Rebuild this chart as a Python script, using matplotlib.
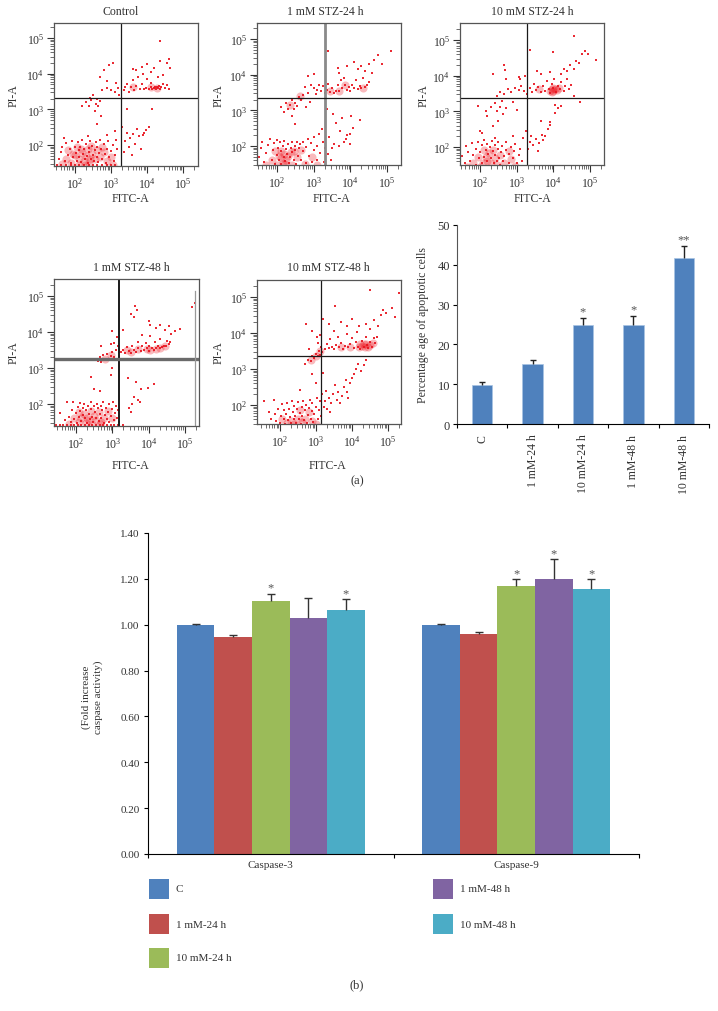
import matplotlib
matplotlib.use("Agg")
import matplotlib.pyplot as plt
import numpy as np

plt.rcParams['font.family'] = ['Liberation Serif', 'DejaVu Serif']

W, H = 718, 1012
colors = ['#4f81bd', '#c0504d', '#9bbb59', '#8064a2', '#4bacc6']
text_col = '#333333'

# flow cytometry events as (log10 FITC-A, log10 PI-A)
ctrl_pts = [
    (1.5,1.45),(1.62,1.43),(1.75,1.44),(1.88,1.43),(2.0,1.45),(2.12,1.43),(2.25,1.44),(2.38,1.43),(2.5,1.45),(2.62,1.43),
    (2.75,1.44),(2.88,1.43),(3.0,1.44),(3.12,1.43),(1.55,1.6),(1.6,1.8),(1.65,1.95),(1.72,1.55),(1.75,2.05),(1.8,1.72),
    (1.85,1.88),(1.88,1.5),(1.92,2.12),(1.95,1.66),(2.0,1.95),(2.02,1.78),(2.05,1.55),(2.08,2.08),(2.1,1.85),(2.12,1.65),
    (2.15,1.95),(2.18,1.52),(2.2,2.15),(2.22,1.75),(2.25,1.88),(2.28,1.6),(2.3,2.02),(2.33,1.7),(2.35,1.5),(2.38,1.92),
    (2.4,1.8),(2.42,2.1),(2.45,1.62),(2.48,1.98),(2.5,1.72),(2.52,1.55),(2.55,1.86),(2.58,2.08),(2.6,1.66),(2.62,1.95),
    (2.65,1.52),(2.68,1.78),(2.7,2.14),(2.72,1.9),(2.75,1.6),(2.8,2.02),(2.82,1.75),(2.85,1.5),(2.9,1.9),(2.92,2.1),
    (2.95,1.65),(3.0,1.82),(3.05,2.0),(3.08,1.55),(3.12,1.72),(3.15,2.15),(3.18,1.9),(1.7,2.2),(2.35,2.25),(2.9,2.28),
    (3.35,1.8),(3.4,2.12),(3.45,2.35),(3.5,1.95),(3.52,2.2),(3.58,1.72),(3.62,2.3),(3.68,2.02),(3.72,2.45),(3.78,2.25),
    (3.82,1.9),(3.88,2.28),(3.92,2.35),(3.98,2.42),(4.05,2.5),(3.3,2.5),(2.6,2.6),(2.72,2.8),(2.55,2.95),(3.12,2.4),
    (2.65,3.08),(2.2,3.1),(2.3,3.2),(2.38,3.08),(2.45,3.25),(2.5,3.4),(2.58,3.15),(2.62,3.3),(2.7,3.22),(2.42,3.32),
    (2.75,3.55),(2.9,3.6),(3.0,3.55),(3.1,3.5),(3.2,3.6),(2.7,3.9),(2.8,4.1),(2.95,4.25),(3.05,4.3),(2.88,3.8),
    (3.15,3.75),(3.22,3.4),(3.35,3.55),(3.4,3.62),(3.45,3.72),(3.5,3.5),(3.55,3.62),(3.6,3.82),(3.65,3.55),(3.7,3.66),
    (3.75,3.9),(3.8,3.58),(3.85,3.72),(3.9,3.98),(3.92,3.56),(3.98,3.6),(4.0,3.85),(4.05,3.58),(4.1,3.75),(4.12,3.62),
    (4.15,3.57),(4.2,3.6),(4.22,3.64),(4.25,3.58),(4.28,3.62),(4.3,3.6),(4.33,3.66),(4.36,3.58),(4.4,3.63),(4.45,3.72),
    (4.5,3.6),(4.55,3.68),(4.6,3.58),(3.7,4.1),(3.85,4.2),(4.0,4.28),(4.2,4.15),(4.35,4.35),(4.55,4.3),(4.65,4.15),
    (4.6,4.42),(4.36,4.92),(4.1,4.05),(4.3,3.92),(4.45,3.95),(3.6,4.12),(4.15,3.0),(3.45,3.0),
]
# denser patches get a soft blob each
ctrl_core = [(1.75,1.6),(1.9,1.5),(1.95,1.75),(2.05,1.95),(2.1,1.6),(2.2,1.78),(2.25,1.55),(2.3,1.7),(2.35,1.88),(2.42,1.62),
             (2.18,1.9),(2.48,1.76),(2.0,1.72),(2.55,1.6),(2.38,1.5),(2.28,1.45),(2.12,1.45),(2.6,1.85),(2.7,1.65),(2.8,1.8),
             (2.9,1.55),(3.0,1.65),(2.75,1.95),(1.8,1.85),(2.45,1.98),(1.65,1.48),(3.05,1.45),(4.28,3.6),(4.12,3.62),(3.6,3.62)]

stz1_24_pts = [
    (1.45,1.43),(1.6,1.44),(1.75,1.43),(1.9,1.45),(2.05,1.43),(2.2,1.44),(2.35,1.43),(2.5,1.45),(2.65,1.43),(2.8,1.44),
    (2.95,1.43),(3.1,1.44),(3.25,1.43),(1.5,1.7),(1.55,1.95),(1.6,2.1),(1.65,1.55),(1.7,1.8),(1.75,2.02),(1.8,2.2),
    (1.85,1.62),(1.88,1.9),(1.92,2.08),(1.95,1.5),(2.0,1.75),(2.0,2.18),(2.02,1.95),(2.05,1.6),(2.08,2.1),(2.1,1.85),
    (2.12,1.5),(2.15,2.0),(2.18,1.7),(2.2,2.15),(2.22,1.58),(2.25,1.92),(2.28,1.78),(2.3,2.05),(2.32,1.52),(2.35,1.68),
    (2.38,1.95),(2.4,2.12),(2.42,1.82),(2.45,1.6),(2.48,2.0),(2.5,1.88),(2.52,1.5),(2.55,2.1),(2.58,1.72),(2.6,1.95),
    (2.62,2.05),(2.65,1.6),(2.7,1.85),(2.72,2.12),(2.78,1.52),(2.8,1.98),(2.85,2.2),(2.88,1.72),(2.92,2.08),(2.95,1.55),
    (3.0,1.9),(3.02,2.25),(3.08,2.0),(3.1,1.62),(3.15,2.35),(3.18,1.8),(3.22,2.48),(3.25,2.1),(3.28,1.55),(3.3,1.95),
    (3.38,1.78),(3.42,2.25),(3.48,1.6),(3.5,1.95),(3.55,2.05),(3.6,2.65),(3.68,2.0),(3.72,2.42),(3.78,2.78),(3.82,2.1),
    (3.88,2.2),(3.92,2.3),(3.98,2.05),(4.02,2.85),(4.08,2.5),(4.25,2.72),(4.0,2.35),(3.35,3.05),(3.52,2.9),(2.5,2.62),
    (2.1,3.1),(2.2,2.95),(2.25,3.2),(2.3,3.05),(2.35,3.15),(2.42,3.3),(2.45,3.05),(2.5,3.2),(2.55,3.12),(2.6,3.38),
    (2.65,3.28),(2.72,3.42),(2.8,3.1),(2.9,3.22),(2.42,2.85),(2.75,3.65),(2.85,3.5),(2.92,3.7),(3.0,3.62),(3.05,3.45),
    (3.1,3.58),(3.15,3.72),(3.2,3.55),(3.25,3.68),(3.3,3.5),(3.35,3.58),(3.4,3.75),(3.45,3.52),(3.5,3.62),(3.55,3.5),
    (3.6,3.55),(3.65,3.72),(3.7,3.55),(3.75,3.85),(3.78,3.62),(3.82,3.9),(3.85,3.7),(3.9,3.58),(3.95,3.65),(4.0,3.55),
    (4.05,3.7),(4.1,3.62),(4.15,3.85),(4.2,3.6),(4.25,3.68),(4.3,3.62),(4.35,3.9),(4.4,3.65),(4.45,3.7),(4.5,3.8),
    (4.2,4.15),(4.3,4.25),(4.4,4.1),(4.5,4.3),(4.6,4.05),(4.65,4.4),(4.75,4.55),(5.1,4.65),(4.85,4.3),(3.4,4.65),
    (3.9,4.25),(3.65,4.2),(3.7,4.05),(3.0,4.02),(2.85,3.95),(4.1,4.35),
]
stz1_24_core = [(1.85,1.6),(1.95,1.85),(2.05,1.72),(2.12,1.65),(2.18,1.78),(2.25,1.6),(2.3,1.72),(2.15,1.52),(2.38,1.82),(2.45,1.85),
                (2.1,1.85),(2.22,1.5),(2.0,1.48),(2.4,1.48),(2.55,1.7),(2.65,1.9),(2.75,1.5),(2.95,1.7),(3.1,1.48),(1.7,1.48),
                (2.62,3.4),(2.35,3.15),(3.7,3.53),(3.45,3.55),(4.35,3.62),(3.85,3.7)]

stz10_24_pts = [
    (1.45,1.43),(1.6,1.44),(1.75,1.43),(1.9,1.45),(2.05,1.43),(2.2,1.44),(2.35,1.43),(2.5,1.45),(2.65,1.43),(2.8,1.44),
    (2.95,1.43),(3.1,1.44),(3.3,1.43),(1.5,1.75),(1.58,1.55),(1.62,2.02),(1.68,1.85),(1.72,1.62),(1.78,2.1),(1.82,1.78),
    (1.88,1.5),(1.9,1.95),(1.95,2.15),(1.98,1.68),(2.0,1.85),(2.05,1.55),(2.05,2.05),(2.1,1.72),(2.12,2.2),(2.15,1.92),
    (2.18,1.6),(2.2,2.08),(2.22,1.8),(2.25,1.48),(2.28,2.0),(2.3,1.7),(2.32,2.18),(2.35,1.88),(2.38,1.55),(2.4,2.05),
    (2.42,1.78),(2.45,1.62),(2.48,1.95),(2.5,2.15),(2.52,1.7),(2.55,1.5),(2.58,1.85),(2.6,2.02),(2.62,1.6),(2.65,1.75),
    (2.7,1.92),(2.72,2.15),(2.78,1.55),(2.8,1.8),(2.85,2.0),(2.9,1.68),(2.92,1.88),(2.95,2.08),(3.0,1.55),(3.05,1.78),
    (3.1,1.95),(3.15,1.62),(3.18,2.25),(2.05,2.38),(2.4,2.25),(2.0,2.45),(2.9,2.3),(3.3,1.95),(3.35,2.15),(3.4,2.3),
    (3.45,2.05),(3.52,2.22),(3.58,1.9),(3.62,2.12),(3.68,2.35),(3.72,2.2),(3.78,2.32),(3.85,2.5),(3.92,2.62),(3.65,2.72),
    (3.9,2.7),(4.05,2.95),(4.12,3.1),(4.05,3.18),(4.2,3.15),(3.25,2.45),(2.15,3.0),(2.2,2.88),(2.3,3.12),(2.4,3.22),
    (2.45,3.0),(2.55,3.12),(2.6,3.28),(2.62,2.92),(2.5,2.72),(2.72,3.1),(2.9,3.25),(3.0,3.05),(1.95,3.15),(2.35,2.6),
    (2.45,3.42),(2.55,3.55),(2.65,3.5),(2.75,3.62),(2.85,3.55),(2.95,3.65),(3.05,3.6),(3.12,3.72),(3.2,3.58),(3.28,3.5),
    (3.35,3.65),(3.42,3.55),(3.48,3.78),(3.52,3.6),(3.58,3.68),(3.65,3.55),(3.72,3.72),(3.78,3.58),(3.82,3.85),(3.88,3.62),
    (3.92,3.52),(3.95,3.78),(4.0,3.65),(4.02,3.9),(4.08,3.55),(4.12,3.72),(4.18,3.62),(4.22,3.82),(4.28,3.58),(4.32,3.7),
    (4.38,3.9),(4.42,3.62),(4.48,3.75),(4.55,3.42),(4.2,4.05),(4.3,4.2),(4.38,4.12),(4.45,4.3),(4.55,4.18),(4.62,4.4),
    (4.7,4.35),(4.78,4.6),(4.85,4.68),(4.95,4.62),(5.15,4.45),(4.55,5.12),(3.55,4.12),(3.65,4.05),(3.35,4.72),(3.98,4.65),
    (2.65,4.3),(2.68,4.15),(2.35,4.05),(2.7,3.9),(3.05,3.95),(3.22,4.0),(3.9,4.1),(4.72,3.25),(3.1,3.9),
]
stz10_24_core = [(1.8,1.55),(1.95,1.72),(2.08,1.55),(2.15,1.72),(2.25,1.82),(2.3,1.55),(2.4,1.7),(2.2,1.6),(2.35,1.92),(2.45,1.5),
                 (2.55,1.78),(2.65,1.55),(2.78,1.9),(2.85,1.65),(2.12,1.92),(2.0,1.45),(1.65,1.45),(2.95,1.48),
                 (3.9,3.58),(3.95,3.62),(4.0,3.58),(4.05,3.62),(4.1,3.6),(4.0,3.65),(3.95,3.55),(4.15,3.65),(3.6,3.62)]

stz1_48_pts = [
    (1.45,1.42),(1.55,1.43),(1.65,1.42),(1.75,1.43),(1.85,1.42),(1.95,1.43),(2.05,1.42),(2.15,1.43),(2.25,1.42),(2.35,1.43),
    (2.45,1.42),(2.55,1.43),(2.65,1.42),(2.75,1.43),(2.85,1.42),(2.95,1.43),(3.05,1.42),(3.15,1.43),(1.55,1.75),(1.7,1.55),
    (1.75,2.05),(1.8,1.65),(1.85,1.5),(1.88,1.82),(1.92,2.05),(1.95,1.58),(2.0,1.75),(2.02,1.48),(2.05,1.92),(2.08,1.65),
    (2.1,2.02),(2.12,1.8),(2.15,1.52),(2.18,1.9),(2.2,1.7),(2.22,2.0),(2.25,1.6),(2.28,1.82),(2.3,1.48),(2.32,1.95),
    (2.35,1.72),(2.38,1.58),(2.4,2.05),(2.42,1.85),(2.45,1.65),(2.48,1.5),(2.5,1.95),(2.52,1.78),(2.55,1.62),(2.58,2.0),
    (2.6,1.88),(2.62,1.52),(2.65,1.72),(2.68,1.95),(2.7,1.6),(2.72,1.82),(2.75,2.05),(2.78,1.48),(2.8,1.7),(2.82,1.9),
    (2.85,1.58),(2.88,1.78),(2.9,2.0),(2.92,1.5),(2.95,1.68),(3.0,1.85),(3.02,2.05),(3.05,1.55),(3.08,1.75),(3.1,1.95),
    (3.12,1.62),(3.15,1.82),(3.18,1.5),(3.3,1.42),(3.45,1.9),(3.52,1.78),(3.55,2.0),(3.6,2.2),(3.72,2.12),(3.75,2.05),
    (3.8,2.42),(3.98,2.45),(4.15,2.55),(3.65,2.6),(3.42,2.72),(2.5,2.42),(2.65,2.35),(2.42,2.75),(2.95,2.8),(3.0,3.0),
    (2.55,3.25),(2.6,3.2),(2.65,3.3),(2.7,3.18),(2.75,3.35),(2.8,3.22),(2.85,3.4),(2.9,3.25),(2.95,3.32),(3.0,3.45),
    (3.05,3.3),(3.1,3.5),(3.15,3.6),(3.05,3.7),(2.95,3.68),(2.68,3.62),(3.12,3.85),(3.25,3.45),(3.3,3.5),(3.35,3.42),
    (3.4,3.58),(3.45,3.48),(3.5,3.42),(3.55,3.62),(3.6,3.5),(3.65,3.45),(3.7,3.72),(3.72,3.55),(3.78,3.48),(3.82,3.62),
    (3.88,3.5),(3.92,3.7),(3.95,3.55),(4.0,3.48),(4.02,3.62),(4.05,3.9),(4.1,3.55),(4.15,3.5),(4.18,3.72),(4.2,3.55),
    (4.25,3.6),(4.3,3.55),(4.32,3.8),(4.38,3.58),(4.42,3.62),(4.48,3.62),(4.5,3.75),(4.55,3.68),(4.6,3.72),(4.62,3.95),
    (4.2,4.1),(4.05,4.2),(4.3,4.2),(4.45,4.05),(4.55,4.18),(4.72,4.02),(4.85,4.08),(3.52,4.5),(3.6,4.42),(3.68,4.6),
    (3.62,4.72),(3.3,4.05),(3.0,4.02),(5.2,4.7),(5.28,4.8),(3.82,3.92),(4.0,4.3),
]
stz1_48_core = [(1.95,1.6),(2.08,1.5),(2.15,1.6),(2.22,1.72),(2.3,1.62),(2.35,1.55),(2.42,1.8),(2.5,1.68),(2.55,1.55),(2.62,1.78),
                (2.7,1.5),(2.28,1.48),(2.08,1.78),(2.78,1.62),(2.88,1.8),(3.0,1.6),(2.45,1.45),(2.65,1.45),(1.8,1.45),
                (2.8,3.25),(2.95,3.35),(3.4,3.5),(3.7,3.52),(3.95,3.52),(4.2,3.52),(4.3,3.55),(3.5,3.45),(4.05,3.5),(4.45,3.62)]

stz10_48_pts = [
    (1.45,1.44),(1.6,1.43),(1.75,1.44),(1.9,1.43),(2.05,1.44),(2.2,1.43),(2.35,1.44),(2.5,1.43),(2.65,1.44),(2.8,1.43),
    (2.95,1.44),(3.1,1.43),(1.55,2.12),(1.7,1.8),(1.75,1.62),(1.82,2.15),(1.85,1.75),(1.9,1.55),(1.95,1.88),(2.0,1.5),
    (2.02,1.7),(2.05,2.02),(2.1,1.62),(2.12,1.85),(2.15,1.48),(2.18,1.75),(2.2,2.05),(2.22,1.58),(2.25,1.9),(2.28,1.68),
    (2.3,1.5),(2.32,2.1),(2.35,1.8),(2.38,1.6),(2.4,1.98),(2.42,1.7),(2.45,1.5),(2.48,1.88),(2.5,2.08),(2.52,1.62),
    (2.55,1.78),(2.58,1.48),(2.6,1.95),(2.62,1.7),(2.65,2.12),(2.68,1.58),(2.7,1.85),(2.72,2.0),(2.75,1.5),(2.78,1.72),
    (2.8,1.92),(2.82,2.15),(2.85,1.62),(2.88,1.82),(2.9,2.05),(2.92,1.52),(2.95,1.75),(3.0,1.95),(3.02,2.2),(3.05,1.6),
    (3.08,1.85),(3.12,2.1),(3.15,1.7),(3.18,2.3),(3.22,1.95),(3.25,2.1),(3.28,2.4),(3.3,1.9),(3.35,2.2),(3.4,1.8),
    (3.42,2.05),(3.48,2.3),(3.52,2.55),(3.58,2.15),(3.62,2.35),(3.68,2.05),(3.72,2.25),(3.78,2.5),(3.82,2.7),(3.85,2.35),
    (3.9,2.2),(3.95,2.6),(4.0,2.75),(4.05,2.85),(4.12,3.0),(4.18,3.15),(4.25,2.95),(4.32,3.1),(4.4,3.25),(3.0,2.6),
    (2.88,2.85),(2.55,2.42),(3.2,2.9),(2.7,3.15),(2.78,3.25),(2.85,3.22),(2.9,3.35),(2.95,3.3),(3.0,3.42),(3.05,3.35),
    (3.08,3.5),(3.12,3.4),(3.15,3.62),(3.18,3.48),(3.05,3.72),(3.02,3.9),(3.1,3.95),(2.8,3.55),(2.88,4.05),(2.72,4.25),
    (3.25,3.55),(3.3,3.7),(3.35,3.58),(3.4,3.82),(3.45,3.62),(3.5,3.55),(3.55,3.68),(3.6,3.9),(3.65,3.6),(3.7,3.72),
    (3.75,3.55),(3.8,3.65),(3.85,3.98),(3.9,3.6),(3.95,3.7),(4.0,3.85),(4.05,3.58),(4.1,3.75),(4.15,4.02),(4.18,3.62),
    (4.22,3.55),(4.28,3.78),(4.32,3.62),(4.38,3.9),(4.42,3.68),(4.45,3.58),(4.5,3.75),(4.55,3.62),(4.6,3.85),(4.65,3.72),
    (4.7,3.9),(4.2,4.2),(4.4,4.25),(4.5,4.1),(4.62,4.35),(4.72,4.2),(4.8,4.5),(4.85,4.65),(4.95,4.55),(5.12,4.7),
    (5.2,4.45),(4.5,5.2),(5.3,5.12),(3.52,4.75),(3.2,4.4),(3.35,4.25),(3.7,4.3),(3.85,4.2),(4.0,4.4),(3.5,4.05),
]
stz10_48_core = [(2.3,1.55),(2.4,1.48),(2.5,1.6),(2.6,1.52),(2.2,1.5),(2.7,1.6),(2.8,1.8),(2.9,1.55),(2.05,1.62),(3.0,1.48),(2.55,1.85),
                 (4.2,3.62),(4.28,3.65),(4.35,3.6),(4.4,3.7),(4.32,3.7),(4.5,3.68),(4.22,3.7),(4.45,3.62),(4.58,3.72),(3.95,3.62),(3.7,3.62),
                 (3.0,3.35),(2.85,3.25),(3.1,3.5)]

panel_titles = ['Control', '1 mM STZ-24 h', '10 mM STZ-24 h', '1 mM STZ-48 h', '10 mM STZ-48 h']
panel_pts = [ctrl_pts, stz1_24_pts, stz10_24_pts, stz1_48_pts, stz10_48_pts]
panel_core = [ctrl_core, stz1_24_core, stz10_24_core, stz1_48_core, stz10_48_core]
gate_x = [3.28, 3.30, 3.27, 3.19, 3.14]
gate_y = [3.31, 3.34, 3.36, 3.25, 3.36]

# panel (a) bars
apop_labels = ['C', '1 mM-24 h', '10 mM-24 h', '1 mM-48 h', '10 mM-48 h']
apop_vals = [9.7, 15.0, 25.0, 25.0, 41.8]
apop_err = [0.9, 1.0, 1.6, 2.1, 3.0]
apop_marks = ['', '', '*', '*', '**']

# panel (b) bars
casp_groups = ['Caspase-3', 'Caspase-9']
casp3_vals = [1.00, 0.945, 1.105, 1.03, 1.065]
casp3_err = [0.002, 0.008, 0.03, 0.085, 0.045]
casp3_marks = ['', '', '*', '', '*']
casp9_vals = [1.00, 0.96, 1.167, 1.20, 1.155]
casp9_err = [0.002, 0.01, 0.031, 0.085, 0.043]
casp9_marks = ['', '', '*', '*', '*']


def box(fig, left, top, right, bottom):
    return fig.add_axes([left / W, 1 - bottom / H, (right - left) / W, (bottom - top) / H])


def ftext(fig, x, y, s, **kw):
    kw.setdefault('fontsize', 8.5)
    kw.setdefault('color', text_col)
    kw.setdefault('ha', 'center')
    kw.setdefault('va', 'center')
    fig.text(x / W, 1 - y / H, s, **kw)


def upper_err(ax, xs, vals, errs, col, cap):
    # only the top whisker is drawn, so the lower cap is hidden
    _, caps, _ = ax.errorbar(xs, vals, yerr=[np.zeros(len(vals)), errs], fmt='none', ecolor=col,
                             elinewidth=1, capsize=cap, capthick=1)
    caps[0].set_visible(False)


fig = plt.figure(figsize=(W / 100, H / 100), dpi=100)

# pixel layout: box, first and last x decade, first and last y decade
flow_layout = [
    ((54, 24, 198, 167), (75, 183), (146, 39)),
    ((257, 24, 401, 166), (277, 387), (147, 40)),
    ((460, 24, 604, 166), (480, 590), (148, 41)),
    ((54, 280, 199, 427), (76, 185), (405, 297)),
    ((257, 281, 401, 425), (280, 388), (406, 298)),
]
title_pos = [(121, 12), (325, 12), (532, 12), (131, 268), (328, 268)]
fitc_pos = [(130, 199), (331, 199), (532, 199), (130, 466), (327, 466)]
pi_pos = [(14, 96), (219, 96), (424, 96), (14, 353), (219, 353)]

for i, (b, xd, yd) in enumerate(flow_layout):
    ax = box(fig, *b)
    per_x = (xd[1] - xd[0]) / 3
    per_y = (yd[0] - yd[1]) / 3
    ax.set_xscale('log')
    ax.set_yscale('log')
    ax.set_xlim(10 ** (2 - (xd[0] - b[0]) / per_x), 10 ** (5 + (b[2] - xd[1]) / per_x))
    ax.set_ylim(10 ** (2 - (b[3] - yd[0]) / per_y), 10 ** (5 + (yd[1] - b[1]) / per_y))

    pts = np.array(panel_pts[i])
    core = np.array(panel_core[i])
    ax.scatter(10 ** core[:, 0], 10 ** core[:, 1], s=34, marker='o', color='#ee1c25', alpha=0.3, linewidths=0)
    ax.scatter(10 ** pts[:, 0], 10 ** pts[:, 1], s=1.6, marker='s', color='#e8141e', alpha=0.9, linewidths=0)

    # gates, some are drawn heavier in the original
    vcol, vlw = ('#8a8a8a', 2.0) if i == 1 else ('#1a1a1a', 1.4 if i == 3 else 0.9)
    hcol, hlw = ('#6a6a6a', 2.4) if i == 3 else ('#1a1a1a', 0.9)
    ax.axvline(10 ** gate_x[i], color=vcol, lw=vlw)
    ax.axhline(10 ** gate_y[i], color=hcol, lw=hlw)
    if i == 3:
        ax.axvline(10 ** 5.27, ymax=0.92, color='#999999', lw=0.9)

    ax.set_xticks([1e2, 1e3, 1e4, 1e5])
    ax.set_yticks([1e2, 1e3, 1e4, 1e5])
    ax.xaxis.set_minor_locator(matplotlib.ticker.LogLocator(base=10, subs=np.arange(2, 10), numticks=50))
    ax.yaxis.set_minor_locator(matplotlib.ticker.LogLocator(base=10, subs=np.arange(2, 10), numticks=50))
    ax.xaxis.set_minor_formatter(matplotlib.ticker.NullFormatter())
    ax.yaxis.set_minor_formatter(matplotlib.ticker.NullFormatter())
    ax.tick_params(which='major', length=5, width=0.8, labelsize=8.5, labelcolor=text_col, color='#333333', pad=2)
    ax.tick_params(which='minor', length=3, width=0.5, color='#333333')
    for s in ax.spines.values():
        s.set_color('#555555')
        s.set_linewidth(0.9)

    ftext(fig, *title_pos[i], panel_titles[i])
    ftext(fig, *fitc_pos[i], 'FITC-A')
    ftext(fig, *pi_pos[i], 'PI-A', rotation=90)

# panel (a) bar chart
ax = box(fig, 457, 226, 709, 425)
pos = np.arange(len(apop_vals)) + 0.5
ax.bar(pos, apop_vals, width=0.405, color=colors[0], edgecolor='#a8c4e4', linewidth=0.5)
upper_err(ax, pos, apop_vals, apop_err, '#222222', 2.2)
for p, v, e, m in zip(pos, apop_vals, apop_err, apop_marks):
    ax.text(p, v + e + 0.1, m, ha='center', va='bottom', fontsize=9, color='#555555')
ax.set_xlim(0, 5)
ax.set_ylim(0, 50)
ax.set_yticks([0, 10, 20, 30, 40, 50])
ax.set_xticks(np.arange(6))
ax.set_xticklabels([])
ax.set_xticks(pos, minor=True)
ax.set_xticklabels(apop_labels, minor=True, rotation=90, fontsize=8.5, color=text_col)
ax.tick_params(axis='x', which='minor', length=0, pad=7)
ax.tick_params(axis='x', which='major', length=3, width=0.8, direction='out')
ax.tick_params(axis='y', length=3, width=0.8, labelsize=9, labelcolor=text_col, pad=2)
ax.spines['top'].set_visible(False)
ax.spines['right'].set_visible(False)
ax.spines['left'].set_color('#555555')
ftext(fig, 423, 325, 'Percentage age of apoptotic cells', rotation=90)
ftext(fig, 357, 481, '(a)', fontsize=9)

# panel (b) bar chart
ax = box(fig, 148, 534, 639, 855)
bw = 0.1532
for g, (vals, errs, marks) in enumerate([(casp3_vals, casp3_err, casp3_marks), (casp9_vals, casp9_err, casp9_marks)]):
    xs = g + 0.5 + (np.arange(5) - 2) * bw
    ax.bar(xs, vals, width=bw, color=colors, linewidth=0)
    upper_err(ax, xs, vals, errs, '#333333', 2.6)
    for x, v, e, m in zip(xs, vals, errs, marks):
        ax.text(x, v + e + 0.002, m, ha='center', va='bottom', fontsize=9, color='#555555')
ax.set_xlim(0, 2)
ax.set_ylim(0, 1.4)
ax.set_yticks(np.arange(0, 1.41, 0.2))
ax.set_yticklabels(['%.2f' % v for v in np.arange(0, 1.41, 0.2)])
ax.set_xticks([0, 1, 2])
ax.set_xticklabels([])
ax.set_xticks([0.5, 1.5], minor=True)
ax.set_xticklabels(casp_groups, minor=True, fontsize=8, color=text_col)
ax.tick_params(axis='x', which='minor', length=0, pad=4)
ax.tick_params(axis='x', which='major', length=3, width=0.8)
ax.tick_params(axis='y', length=3, width=0.8, labelsize=8, labelcolor=text_col, pad=3)
ax.spines['top'].set_visible(False)
ax.spines['right'].set_visible(False)
ftext(fig, 92, 697, '(Fold increase\ncaspase activity)', rotation=90, fontsize=8, linespacing=1.3)

# legend of panel (b)
leg_x = [149, 149, 149, 433, 433]
leg_y = [880, 915, 949, 880, 915]
for name, c, lx, ly in zip(apop_labels, colors, leg_x, leg_y):
    lax = box(fig, lx, ly, lx + 20, ly + 20)
    lax.set_facecolor(c)
    lax.set_xticks([])
    lax.set_yticks([])
    for s in lax.spines.values():
        s.set_visible(False)
    ftext(fig, lx + 27, ly + 10, name, ha='left', fontsize=8)
ftext(fig, 357, 985, '(b)', fontsize=9)

fig.savefig('out.png', dpi=100)
